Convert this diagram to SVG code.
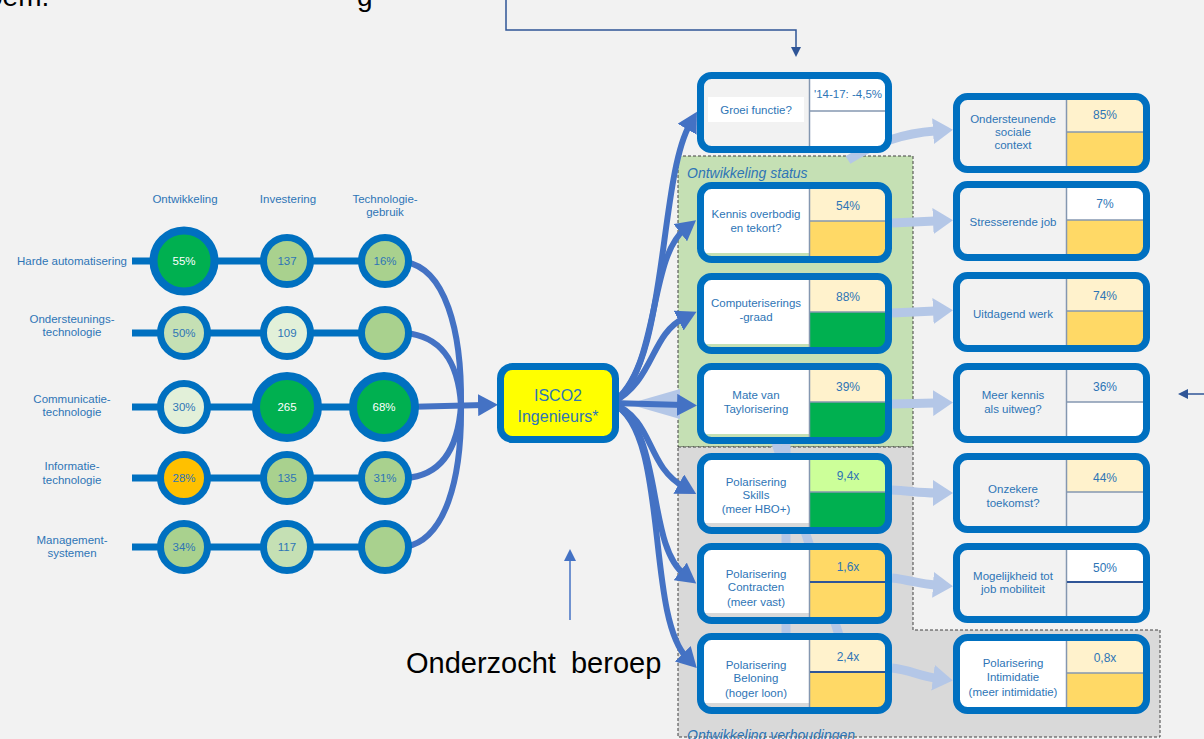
<svg xmlns="http://www.w3.org/2000/svg" width="1204" height="739" viewBox="0 0 1204 739">
<defs>
<style>
text{font-family:"Liberation Sans",Arial,Helvetica,sans-serif}
.t{fill:#2E75B6;font-size:11.5px;text-anchor:middle}
.v{fill:#2E75B6;font-size:12px;text-anchor:middle}
.wt{fill:#FFFFFF}
.ring{stroke:#0070C0;stroke-width:7}
.ringb{stroke:#0070C0;stroke-width:8}
.frame{fill:none;stroke:#0070C0;stroke-width:7}
.dv{stroke:#8497B0;stroke-width:1.5}
.dvd{stroke:#2F5597;stroke-width:2}
.conn{fill:none;stroke:#4472C4;stroke-width:6}
.lc{fill:none;stroke:#B4C7E7;stroke-width:9}
.row{stroke:#0070C0;stroke-width:7}
.reg{stroke:#404040;stroke-width:1;stroke-dasharray:3 2}
.rl{fill:#2E75B6;font-size:14px;font-style:italic}
.big{fill:#000;font-size:28px}
</style>
<marker id="ah" markerUnits="userSpaceOnUse" markerWidth="22" markerHeight="22" refX="6" refY="11" orient="auto" viewBox="0 0 22 22"><path d="M0,0 L20,11 L0,22 z" fill="#4472C4"/></marker>
<marker id="lah" markerUnits="userSpaceOnUse" markerWidth="20" markerHeight="26" refX="2" refY="13" orient="auto" viewBox="0 0 20 26"><path d="M0,0 L20,13 L0,26 z" fill="#B4C7E7"/></marker>
<marker id="tah" markerUnits="userSpaceOnUse" markerWidth="10" markerHeight="10" refX="2" refY="5" orient="auto" viewBox="0 0 10 10"><path d="M0,0 L10,5 L0,10 z" fill="#2F5597"/></marker>
<marker id="tab" markerUnits="userSpaceOnUse" markerWidth="12" markerHeight="12" refX="2" refY="6" orient="auto" viewBox="0 0 12 12"><path d="M0,0 L12,6 L0,12 z" fill="#4472C4"/></marker>
</defs>
<rect x="0" y="0" width="1204" height="739" fill="#F2F2F2"/>
<text class="big" x="-13" y="6">oem.</text>
<text class="big" x="357" y="6">g</text>

<g id="regions">
<rect class="reg" x="678" y="156" width="235" height="291" fill="#C5E0B4"/>
<path class="reg" d="M678,447 H913 V630 H1160 V737 H678 Z" fill="#D9D9D9"/>
<text class="rl" x="687" y="178">Ontwikkeling status</text>
<text class="rl" x="687" y="740">Ontwikkeling verhoudingen</text>
</g>

<g id="connectors">
<path class="lc" d="M775,440 L862,705"/>
<path class="lc" d="M786,440 V640"/>
<path class="lc" d="M848,160 C875,143 905,133 935,131" marker-end="url(#lah)"/>
<path class="lc" d="M892,223 L935,221" marker-end="url(#lah)"/>
<path class="lc" d="M892,313 L935,311" marker-end="url(#lah)"/>
<path class="lc" d="M892,404 L935,403" marker-end="url(#lah)"/>
<path class="lc" d="M892,490 C910,491 920,493 935,493" marker-end="url(#lah)"/>
<path class="lc" d="M892,578 C910,580 920,584 935,585" marker-end="url(#lah)"/>
<path class="lc" d="M892,668 C910,670 920,676 935,678" marker-end="url(#lah)"/>
<path d="M628,404 L680,389 L680,419 Z" fill="#B4C7E7"/>
<path class="conn" d="M612,403 C668,370 658,180 690,124" marker-end="url(#ah)"/>
<path class="conn" d="M612,403 C660,370 648,258 685,229" marker-end="url(#ah)"/>
<path class="conn" d="M612,403 C655,380 650,335 684,318" marker-end="url(#ah)"/>
<path class="conn" d="M612,403 L683,405" marker-end="url(#ah)"/>
<path class="conn" d="M612,403 C655,420 645,465 684,487" marker-end="url(#ah)"/>
<path class="conn" d="M612,403 C665,430 645,545 685,575" marker-end="url(#ah)"/>
<path class="conn" d="M612,403 C670,430 645,615 687,658" marker-end="url(#ah)"/>
<path class="row" d="M132,261 H385 M132,333 H385 M132,407 H385 M132,478 H385 M132,547 H385"/>
<path class="conn" d="M405,262 C445,268 462,330 461,405"/>
<path class="conn" d="M405,333 C440,336 458,360 461,405"/>
<path class="conn" d="M405,478 C440,476 458,450 461,405"/>
<path class="conn" d="M405,547 C445,540 462,480 461,405"/>
<path class="conn" d="M405,407 L484,405" marker-end="url(#ah)"/>
<path d="M506,0 V30 H796 V49" fill="none" stroke="#2F5597" stroke-width="1.5" marker-end="url(#tah)"/>
<path d="M1204,394 H1186" fill="none" stroke="#2F5597" stroke-width="1.5" marker-end="url(#tah)"/>
<path d="M570,620 V559" fill="none" stroke="#4472C4" stroke-width="1.5" marker-end="url(#tab)"/>
</g>

<g id="labels-left">
<text class="t" x="185" y="203">Ontwikkeling</text>
<text class="t" x="288" y="203">Investering</text>
<text class="t" x="385" y="203">Technologie-</text>
<text class="t" x="385" y="216">gebruik</text>
<text class="t" x="127" y="265" style="text-anchor:end">Harde automatisering</text>
<text class="t" x="72" y="323">Ondersteunings-</text>
<text class="t" x="72" y="336">technologie</text>
<text class="t" x="72" y="403">Communicatie-</text>
<text class="t" x="72" y="416">technologie</text>
<text class="t" x="72" y="470">Informatie-</text>
<text class="t" x="72" y="484">technologie</text>
<text class="t" x="72" y="544">Management-</text>
<text class="t" x="72" y="557">systemen</text>
</g>

<g id="c-ha-ont"><circle class="ringb" cx="184" cy="261" r="30.5" fill="#00B050"/><text class="t wt" x="184" y="265">55%</text></g>
<g id="c-ha-inv"><circle class="ring" cx="287" cy="261" r="23.5" fill="#A9D18E"/><text class="t" x="287" y="265">137</text></g>
<g id="c-ha-tec"><circle class="ring" cx="385" cy="261" r="23.5" fill="#A9D18E"/><text class="t" x="385" y="265">16%</text></g>
<g id="c-on-ont"><circle class="ring" cx="184" cy="333" r="23.5" fill="#C5E0B4"/><text class="t" x="184" y="337">50%</text></g>
<g id="c-on-inv"><circle class="ring" cx="287" cy="333" r="23.5" fill="#E2F0D9"/><text class="t" x="287" y="337">109</text></g>
<g id="c-on-tec"><circle class="ring" cx="385" cy="333" r="23.5" fill="#A9D18E"/></g>
<g id="c-co-ont"><circle class="ring" cx="184" cy="407" r="23.5" fill="#E2F0D9"/><text class="t" x="184" y="411">30%</text></g>
<g id="c-co-inv"><circle class="ringb" cx="287" cy="407" r="31" fill="#00B050"/><text class="t wt" x="287" y="411">265</text></g>
<g id="c-co-tec"><circle class="ringb" cx="384" cy="407" r="31" fill="#00B050"/><text class="t wt" x="384" y="411">68%</text></g>
<g id="c-in-ont"><circle class="ring" cx="184" cy="478" r="23.5" fill="#FFC000"/><text class="t" x="184" y="482">28%</text></g>
<g id="c-in-inv"><circle class="ring" cx="287" cy="478" r="23.5" fill="#A9D18E"/><text class="t" x="287" y="482">135</text></g>
<g id="c-in-tec"><circle class="ring" cx="385" cy="478" r="23.5" fill="#A9D18E"/><text class="t" x="385" y="482">31%</text></g>
<g id="c-ma-ont"><circle class="ring" cx="184" cy="547" r="23.5" fill="#A9D18E"/><text class="t" x="184" y="551">34%</text></g>
<g id="c-ma-inv"><circle class="ring" cx="287" cy="547" r="23.5" fill="#C5E0B4"/><text class="t" x="287" y="551">117</text></g>
<g id="c-ma-tec"><circle class="ring" cx="385" cy="547" r="23.5" fill="#A9D18E"/></g>

<g id="isco">
<rect x="500.5" y="366.5" width="115" height="73" rx="12" fill="#FFFF00" stroke="#0070C0" stroke-width="7"/>
<text class="t" x="558" y="401" style="font-size:16px">ISCO2</text>
<text class="t" x="558" y="422" style="font-size:16px">Ingenieurs*</text>
</g>

<g id="groei">
<rect x="704" y="79" width="181" height="67" fill="#F2F2F2"/>
<rect x="708" y="97" width="96" height="25" fill="#FFFFFF"/>
<rect x="810" y="79" width="75" height="32" fill="#FFFFFF"/>
<rect x="810" y="111" width="75" height="35" fill="#FFFFFF"/>
<line class="dv" x1="809.5" y1="79" x2="809.5" y2="146"/>
<line class="dv" x1="810" y1="111" x2="885" y2="111"/>
<rect class="frame" x="700.5" y="75.5" width="188" height="74" rx="11"/>
<text class="t" x="756" y="114">Groei functie?</text>
<text class="t" x="848" y="98">'14-17: -4,5%</text>
</g>

<g id="kennis">
<rect x="704" y="189" width="181" height="67" fill="#C5E0B4"/>
<rect x="704" y="189" width="105" height="64" fill="#FFFFFF"/>
<rect x="810" y="189" width="75" height="32" fill="#FFF2CC"/>
<rect x="810" y="221" width="75" height="35" fill="#FFD966"/>
<line class="dv" x1="809.5" y1="189" x2="809.5" y2="256"/>
<line class="dv" x1="810" y1="221" x2="885" y2="221"/>
<rect class="frame" x="700.5" y="185.5" width="188" height="74" rx="11"/>
<text class="t" x="756" y="218">Kennis overbodig</text>
<text class="t" x="756" y="232">en tekort?</text>
<text class="v" x="848" y="210">54%</text>
</g>

<g id="computer">
<rect x="704" y="280" width="181" height="67" fill="#C5E0B4"/>
<rect x="704" y="280" width="105" height="64" fill="#FFFFFF"/>
<rect x="810" y="280" width="75" height="32" fill="#FFF2CC"/>
<rect x="810" y="312" width="75" height="35" fill="#00B050"/>
<line class="dv" x1="809.5" y1="280" x2="809.5" y2="347"/>
<line class="dv" x1="810" y1="312" x2="885" y2="312"/>
<rect class="frame" x="700.5" y="276.5" width="188" height="74" rx="11"/>
<text class="t" x="756" y="307">Computeriserings</text>
<text class="t" x="756" y="321">-graad</text>
<text class="v" x="848" y="301">88%</text>
</g>

<g id="taylor">
<rect x="704" y="370" width="181" height="67" fill="#C5E0B4"/>
<rect x="704" y="370" width="105" height="64" fill="#FFFFFF"/>
<rect x="810" y="370" width="75" height="32" fill="#FFF2CC"/>
<rect x="810" y="402" width="75" height="35" fill="#00B050"/>
<line class="dv" x1="809.5" y1="370" x2="809.5" y2="437"/>
<line class="dv" x1="810" y1="402" x2="885" y2="402"/>
<rect class="frame" x="700.5" y="366.5" width="188" height="74" rx="11"/>
<text class="t" x="756" y="399">Mate van</text>
<text class="t" x="756" y="413">Taylorisering</text>
<text class="v" x="848" y="391">39%</text>
</g>

<g id="skills">
<rect x="704" y="460" width="181" height="67" fill="#D9D9D9"/>
<rect x="704" y="460" width="105" height="63" fill="#FFFFFF"/>
<rect x="810" y="460" width="75" height="32" fill="#CCFF99"/>
<rect x="810" y="492" width="75" height="35" fill="#00B050"/>
<line class="dv" x1="809.5" y1="460" x2="809.5" y2="527"/>
<line class="dv" x1="810" y1="492" x2="885" y2="492"/>
<rect class="frame" x="700.5" y="456.5" width="188" height="74" rx="11"/>
<text class="t" x="756" y="486">Polarisering</text>
<text class="t" x="756" y="499">Skills</text>
<text class="t" x="756" y="513">(meer HBO+)</text>
<text class="v" x="848" y="480">9,4x</text>
</g>

<g id="contracten">
<rect x="704" y="550" width="181" height="67" fill="#D9D9D9"/>
<rect x="704" y="550" width="105" height="63" fill="#FFFFFF"/>
<rect x="810" y="550" width="75" height="32" fill="#FFD966"/>
<rect x="810" y="582" width="75" height="35" fill="#FFD966"/>
<line class="dv" x1="809.5" y1="550" x2="809.5" y2="617"/>
<line class="dvd" x1="810" y1="582" x2="885" y2="582"/>
<rect class="frame" x="700.5" y="546.5" width="188" height="74" rx="11"/>
<text class="t" x="756" y="578">Polarisering</text>
<text class="t" x="756" y="591">Contracten</text>
<text class="t" x="756" y="606">(meer vast)</text>
<text class="v" x="848" y="571">1,6x</text>
</g>

<g id="beloning">
<rect x="704" y="640" width="181" height="67" fill="#D9D9D9"/>
<rect x="704" y="640" width="105" height="63" fill="#FFFFFF"/>
<rect x="810" y="640" width="75" height="32" fill="#FFF2CC"/>
<rect x="810" y="672" width="75" height="35" fill="#FFD966"/>
<line class="dv" x1="809.5" y1="640" x2="809.5" y2="707"/>
<line class="dvd" x1="810" y1="672" x2="885" y2="672"/>
<rect class="frame" x="700.5" y="636.5" width="188" height="74" rx="11"/>
<text class="t" x="756" y="669">Polarisering</text>
<text class="t" x="756" y="682">Beloning</text>
<text class="t" x="756" y="697">(hoger loon)</text>
<text class="v" x="848" y="661">2,4x</text>
</g>

<g id="sociale">
<rect x="960" y="100" width="183" height="66" fill="#F2F2F2"/>
<rect x="1067" y="100" width="76" height="32" fill="#FFF2CC"/>
<rect x="1067" y="132" width="76" height="34" fill="#FFD966"/>
<line class="dv" x1="1066.5" y1="100" x2="1066.5" y2="166"/>
<line class="dv" x1="1067" y1="132" x2="1143" y2="132"/>
<rect class="frame" x="956.5" y="96.5" width="190" height="73" rx="11"/>
<text class="t" x="1013" y="123">Ondersteunende</text>
<text class="t" x="1013" y="136">sociale</text>
<text class="t" x="1013" y="149">context</text>
<text class="v" x="1105" y="119">85%</text>
</g>

<g id="stress">
<rect x="960" y="188" width="183" height="66" fill="#F2F2F2"/>
<rect x="1067" y="188" width="76" height="32" fill="#FFFFFF"/>
<rect x="1067" y="220" width="76" height="34" fill="#FFD966"/>
<line class="dv" x1="1066.5" y1="188" x2="1066.5" y2="254"/>
<line class="dv" x1="1067" y1="220" x2="1143" y2="220"/>
<rect class="frame" x="956.5" y="184.5" width="190" height="73" rx="11"/>
<text class="t" x="1013" y="226">Stresserende job</text>
<text class="v" x="1105" y="208">7%</text>
</g>

<g id="uitdagend">
<rect x="960" y="279" width="183" height="66" fill="#F2F2F2"/>
<rect x="1067" y="279" width="76" height="32" fill="#FFF2CC"/>
<rect x="1067" y="311" width="76" height="34" fill="#FFD966"/>
<line class="dv" x1="1066.5" y1="279" x2="1066.5" y2="345"/>
<line class="dv" x1="1067" y1="311" x2="1143" y2="311"/>
<rect class="frame" x="956.5" y="275.5" width="190" height="73" rx="11"/>
<text class="t" x="1013" y="318">Uitdagend werk</text>
<text class="v" x="1105" y="300">74%</text>
</g>

<g id="uitweg">
<rect x="960" y="370" width="183" height="66" fill="#F2F2F2"/>
<rect x="1067" y="370" width="76" height="32" fill="#F2F2F2"/>
<rect x="1067" y="402" width="76" height="34" fill="#FFFFFF"/>
<line class="dv" x1="1066.5" y1="370" x2="1066.5" y2="436"/>
<line class="dv" x1="1067" y1="402" x2="1143" y2="402"/>
<rect class="frame" x="956.5" y="366.5" width="190" height="73" rx="11"/>
<text class="t" x="1013" y="399">Meer kennis</text>
<text class="t" x="1013" y="413">als uitweg?</text>
<text class="v" x="1105" y="391">36%</text>
</g>

<g id="toekomst">
<rect x="960" y="460" width="183" height="66" fill="#F2F2F2"/>
<rect x="1067" y="460" width="76" height="32" fill="#FFF2CC"/>
<rect x="1067" y="492" width="76" height="34" fill="#F2F2F2"/>
<line class="dv" x1="1066.5" y1="460" x2="1066.5" y2="526"/>
<line class="dv" x1="1067" y1="492" x2="1143" y2="492"/>
<rect class="frame" x="956.5" y="456.5" width="190" height="73" rx="11"/>
<text class="t" x="1013" y="493">Onzekere</text>
<text class="t" x="1013" y="507">toekomst?</text>
<text class="v" x="1105" y="482">44%</text>
</g>

<g id="mobiliteit">
<rect x="960" y="550" width="183" height="66" fill="#F2F2F2"/>
<rect x="1067" y="550" width="76" height="32" fill="#FFFFFF"/>
<rect x="1067" y="582" width="76" height="34" fill="#F2F2F2"/>
<line class="dv" x1="1066.5" y1="550" x2="1066.5" y2="616"/>
<line class="dvd" x1="1067" y1="582" x2="1143" y2="582"/>
<rect class="frame" x="956.5" y="546.5" width="190" height="73" rx="11"/>
<text class="t" x="1013" y="580">Mogelijkheid tot</text>
<text class="t" x="1013" y="593">job mobiliteit</text>
<text class="v" x="1105" y="572">50%</text>
</g>

<g id="intimidatie">
<rect x="960" y="641" width="183" height="66" fill="#FFFFFF"/>
<rect x="1067" y="641" width="76" height="32" fill="#FFF2CC"/>
<rect x="1067" y="673" width="76" height="34" fill="#FFD966"/>
<line class="dv" x1="1066.5" y1="641" x2="1066.5" y2="707"/>
<line class="dv" x1="1067" y1="673" x2="1143" y2="673"/>
<rect class="frame" x="956.5" y="637.5" width="190" height="73" rx="11"/>
<text class="t" x="1013" y="667">Polarisering</text>
<text class="t" x="1013" y="681">Intimidatie</text>
<text class="t" x="1013" y="696">(meer intimidatie)</text>
<text class="v" x="1105" y="662">0,8x</text>
</g>

<text class="big" x="406" y="673" style="font-size:29px;word-spacing:7px">Onderzocht beroep</text>
</svg>
